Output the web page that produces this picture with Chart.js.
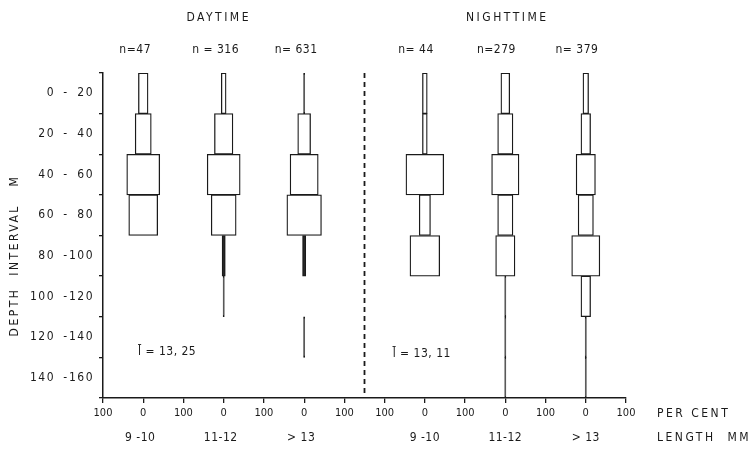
<!DOCTYPE html>
<html>
<head>
<meta charset="utf-8">
<script src="https://cdn.jsdelivr.net/npm/chart.js@4"></script>
<style>
  body { margin: 0; background: #fff; }
</style>
</head>
<body>
<canvas id="kite" width="754" height="455"></canvas>
<script>
// depth intervals (y categories)
const depthLabels = ['0 - 20', '20 - 40', '40 - 60', '60 - 80', '80 - 100', '100 - 120', '120 - 140', '140 - 160'];
const lengthClasses = ['9 -10', '11-12', '> 13'];
const dayCounts = ['n=47', 'n = 316', 'n= 631'];
const nightCounts = ['n= 44', 'n=279', 'n= 379'];
const meanLength = ['l\u0304 = 13, 25', 'l\u0304 = 13, 11'];

// per cent of catch in each depth interval, per length class
const day910 = [12, 20, 41, 36, null, null, null, null];
const day1112 = [6, 23, 41, 31, 4, 1.5, null, null];
const day13 = [1.5, 16, 35, 43, 4, null, 1.5, null];
const night910 = [6, 6, 47, 14, 37, null, null, null];
const night1112 = [11, 19, 34, 19, 24, 1.5, 1.5, 1.5];
const night13 = [7, 12, 24, 19, 35, 12, 1.5, 1.5];

// centre of each length class on the per-cent axis (1 unit = 100 %)
const dayCentres = [1, 3, 5];
const nightCentres = [8, 10, 12];
const divider = 6.5;

const FONT = '"DejaVu Sans Condensed", "DejaVu Sans", sans-serif';
const INK = '#1a1a1a';

function toRanges(values, centre) {
  return values.map(p => p == null ? null : [centre - p / 100, centre + p / 100]);
}

const series = [day910, day1112, day13, night910, night1112, night13];
const centres = dayCentres.concat(nightCentres);

const datasets = series.map((vals, i) => ({
  data: toRanges(vals, centres[i]),
  grouped: false,
  barPercentage: 1,
  categoryPercentage: 1,
  borderSkipped: false,
  borderWidth: 1.3,
  borderColor: INK,
  backgroundColor: ctx => {
    const v = ctx.raw;
    if (!v) return '#fff';
    return (v[1] - v[0]) * 50 < 5 ? '#2a2a2a' : '#fff';
  }
}));

const textPlugin = {
  id: 'kiteText',
  afterDraw(chart) {
    const ctx = chart.ctx;
    const x = chart.scales.x;
    const y = chart.scales.y;
    const area = chart.chartArea;
    ctx.save();
    ctx.fillStyle = INK;
    ctx.strokeStyle = INK;

    // dashed day / night divider
    ctx.lineWidth = 1.8;
    ctx.setLineDash([5, 4]);
    ctx.beginPath();
    ctx.moveTo(x.getPixelForValue(divider), area.top);
    ctx.lineTo(x.getPixelForValue(divider), area.bottom);
    ctx.stroke();
    ctx.setLineDash([]);

    ctx.textBaseline = 'middle';
    ctx.font = '12px ' + FONT;

    // depth interval labels, split round the dash
    ctx.letterSpacing = '1.5px';
    depthLabels.forEach((lab, i) => {
      const parts = lab.split('-').map(s => s.trim());
      const py = y.getPixelForValue(i);
      ctx.textAlign = 'right';
      ctx.fillText(parts[0], area.left - 48, py);
      ctx.fillText(parts[1], area.left - 9, py);
      ctx.textAlign = 'center';
      ctx.fillText('-', area.left - 37, py);
    });

    ctx.textAlign = 'center';

    // headings
    ctx.letterSpacing = '2.5px';
    ctx.fillText('DAYTIME', x.getPixelForValue(dayCentres[1]) - 5, area.top - 55);
    ctx.fillText('NIGHTTIME', x.getPixelForValue(nightCentres[1]) + 2, area.top - 55);

    // sample sizes
    ctx.letterSpacing = '0.5px';
    dayCounts.forEach((t, i) => ctx.fillText(t, x.getPixelForValue(dayCentres[i] - 0.2), area.top - 23));
    nightCounts.forEach((t, i) => ctx.fillText(t, x.getPixelForValue(nightCentres[i] - 0.22), area.top - 23));

    // length classes
    dayCentres.forEach((c, i) => ctx.fillText(lengthClasses[i], x.getPixelForValue(c) - 3, area.bottom + 40));
    nightCentres.forEach((c, i) => ctx.fillText(lengthClasses[i], x.getPixelForValue(c), area.bottom + 40));

    // mean lengths
    ctx.textAlign = 'left';
    ctx.fillText(meanLength[0], x.getPixelForValue(0.87), area.top + 279);
    ctx.fillText(meanLength[1], x.getPixelForValue(7.2), area.top + 281);

    // right-hand axis captions
    ctx.letterSpacing = '2.5px';
    ctx.fillText('PER CENT', x.right + 31, area.bottom + 16);
    ctx.fillText('LENGTH  MM', x.right + 31, area.bottom + 40);

    // y title
    ctx.translate(15, (area.top + area.bottom) / 2 + 20);
    ctx.rotate(-Math.PI / 2);
    ctx.textAlign = 'center';
    ctx.fillText('DEPTH  INTERVAL   M', 0, 0);
    ctx.restore();
  }
};

new Chart(document.getElementById('kite'), {
  type: 'bar',
  data: { labels: depthLabels, datasets: datasets },
  options: {
    indexAxis: 'y',
    responsive: false,
    animation: false,
    layout: { padding: { top: 73, right: 128, bottom: 0, left: 0 } },
    plugins: { legend: { display: false }, tooltip: { enabled: false } },
    scales: {
      y: {
        type: 'category',
        offset: true,
        afterFit: s => { s.width = 103; },
        border: { display: true, color: INK, width: 1.5 },
        grid: { drawOnChartArea: false, offset: true, tickLength: 4, color: INK, lineWidth: 1.3 },
        ticks: { display: false }
      },
      x: {
        type: 'linear',
        min: 0,
        max: 13,
        afterFit: s => { s.height = 57; },
        border: { display: true, color: INK, width: 1.5 },
        grid: { drawOnChartArea: false, tickLength: 5, color: INK, lineWidth: 1.3 },
        ticks: {
          stepSize: 1,
          autoSkip: false,
          color: INK,
          padding: 4,
          font: { family: FONT, size: 11 },
          callback: v => centres.includes(v) ? '0' : '100'
        }
      }
    }
  },
  plugins: [textPlugin]
});
</script>
</body>
</html>
